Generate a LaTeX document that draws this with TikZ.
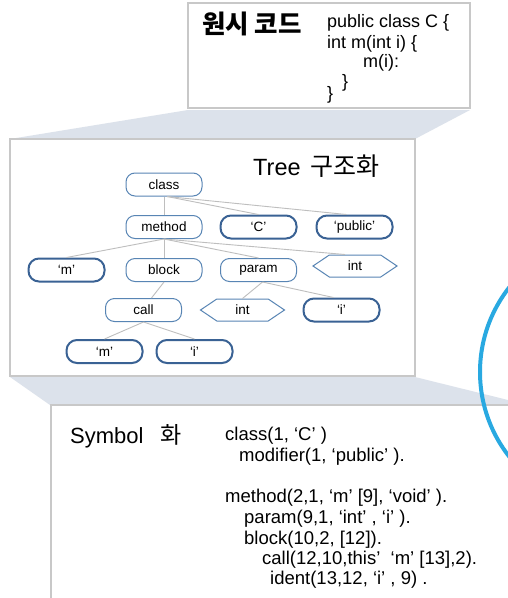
\documentclass[tikz,border=0pt]{standalone}
\usepackage{fontspec}
\setmainfont{Liberation Sans}
\newfontfamily\kr{Noto Sans CJK KR}
\usetikzlibrary{shapes.symbols}

\definecolor{bandgray}{RGB}{220,226,235}
\definecolor{panelline}{RGB}{200,200,200}
\definecolor{thinblue}{RGB}{88,133,180}
\definecolor{leafblue}{RGB}{58,98,148}
\definecolor{edgegray}{RGB}{190,190,190}
\definecolor{ringblue}{RGB}{41,169,225}

\tikzset{
  x=1pt, y=-1pt,
  panel/.style={draw=panelline, line width=1.4pt, fill=white},
  band/.style={fill=bandgray, draw=none},
  inner/.style={draw=thinblue, line width=1pt, fill=white, rounded corners=9pt,
    minimum width=76pt, minimum height=23pt, inner sep=0pt, font=\fontsize{13.5}{14}\selectfont},
  leaf/.style={inner, draw=leafblue, line width=2pt, rounded corners=10.5pt},
  hexnode/.style={signal, signal to=east and west, signal pointer angle=68,
    draw=thinblue, line width=1pt, fill=white,
    minimum width=84pt, minimum height=22pt, inner sep=0pt, font=\fontsize{13.5}{14}\selectfont},
  link/.style={draw=edgegray, line width=0.9pt},
  code/.style={anchor=base west, inner sep=0pt, font=\fontsize{18}{20}\selectfont},
  symcode/.style={code, font=\fontsize{18.5}{20}\selectfont},
  title/.style={anchor=base west, inner sep=0pt, font=\fontsize{22}{26}\selectfont},
}

\begin{document}
\begin{tikzpicture}
\useasboundingbox (0,0) rectangle (508,598);
\clip (0,0) rectangle (508,598);
\fill[white] (0,0) rectangle (508,598);

% connecting bands between the panels
\path[band] (188,110) -- (470,110) -- (415,139) -- (10,139) -- cycle;
\path[band] (10,377) -- (415,377) -- (508,400) -- (508,405) -- (50,405) -- cycle;

% panels
\draw[panel] (188,3) rectangle (470,108);
\draw[panel] (10,139) rectangle (415,376);
\draw[panel] (51,405) rectangle (530,620);

% source code panel
\node[title, font=\fontsize{25.5}{28}\selectfont\kr\bfseries] (srctitle) at (202,33) {원시 코드};
\node[code] (src1) at (327,27) {public class C \{};
\node[code] (src2) at (327,48) {int m(int i) \{};
\node[code] (src3) at (363,67) {m(i):};
\node[code] (src4) at (342,87) {\}};
\node[code] (src5) at (327,99) {\}};

% tree panel
\node[title, font=\fontsize{23.5}{26}\selectfont] (treetitle) at (253,175)
  {Tree\hspace{3pt} {\fontsize{25}{26}\selectfont\kr 구조화}};

\node[inner] (class)  at (164,184.5) {class};
\node[inner] (method) at (164,227) {method};
\node[leaf]  (C)      at (258.5,227) {‘C’};
\node[leaf]  (public) at (354.5,227) {‘public’};
\node[leaf]  (m1)     at (66.5,270) {‘m’};
\node[inner] (block)  at (164,270) {block};
\node[inner] (param)  at (258.5,270) {param};
\node[hexnode] (int1) at (355,266) {int};
\node[inner] (call)   at (143.5,310) {call};
\node[hexnode] (int2) at (242.5,310) {int};
\node[leaf]  (i1)     at (341.5,310) {‘i’};
\node[leaf]  (m2)     at (104.5,351.5) {‘m’};
\node[leaf]  (i2)     at (194.5,351.5) {‘i’};

\path[link] (class.south) -- (method.north);
\path[link] ([xshift=3pt]class.south) -- (C.north);
\path[link] ([xshift=3pt]class.south) -- ([xshift=-8pt]public.north);
\path[link] (method.south) -- (m1.north);
\path[link] (method.south) -- (block.north);
\path[link] (method.south) -- (param.north);
\path[link] (method.south) -- ([xshift=-10pt]int1.north);
\path[link] (block.south) -- ([xshift=8pt]call.north);
\path[link] ([xshift=4pt]param.south) -- (int2.north);
\path[link] ([xshift=4pt]param.south) -- ([xshift=-8pt]i1.north);
\path[link] (call.south) -- (m2.north);
\path[link] (call.south) -- (i2.north);

% symbol panel
\node[title] (symtitle) at (70,443) {Symbol\hspace{11pt} {\fontsize{23}{26}\selectfont\kr 화}};
\node[symcode] (sym1) at (225,440) {class(1, ‘C’ )};
\node[symcode] (sym2) at (239,461) {modifier(1, ‘public’ ).};
\node[symcode] (sym3) at (225,502) {method(2,1, ‘m’ [9], ‘void’ ).};
\node[symcode] (sym4) at (244,523) {param(9,1, ‘int’ , ‘i’ ).};
\node[symcode] (sym5) at (244,544) {block(10,2, [12]).};
\node[symcode] (sym6) at (262,564) {call(12,10,this’~ ‘m’ [13],2).};
\node[symcode] (sym7) at (270,584) {ident(13,12, ‘i’ , 9) .};

% highlight ring
\draw[ringblue, line width=4pt] (617,372) circle[radius=137];
\end{tikzpicture}
\end{document}
